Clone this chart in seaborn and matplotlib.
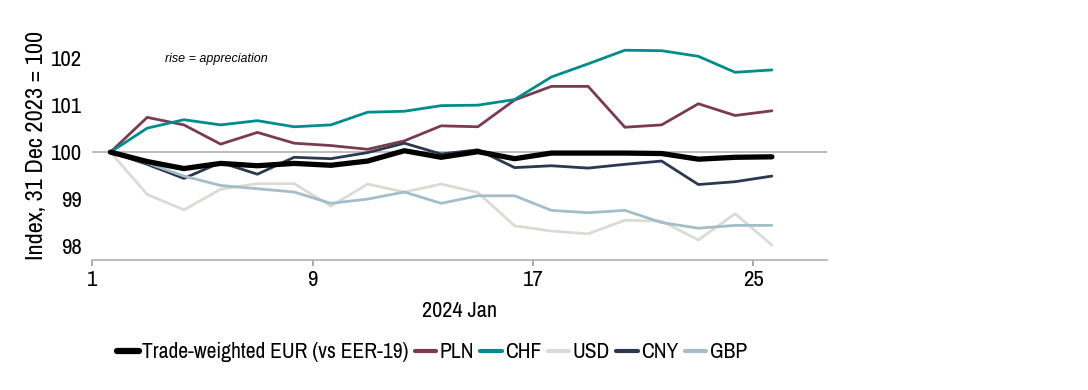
import pandas as pd
import numpy as np
import seaborn as sns
import matplotlib.pyplot as plt
from matplotlib import font_manager
from matplotlib.lines import Line2D

sns.set_theme(style='white')

# look for a narrow sans (the original uses Arial Narrow)
narrow = None
stretch = 'normal'
for f in font_manager.fontManager.ttflist:
    if 'Narrow' in f.name or 'Condensed' in f.name:
        narrow = f.name
        break
if narrow is None:
    for f in font_manager.fontManager.ttflist:
        if f.stretch in ('condensed', 'semi-condensed', 550, 600) and 'Mono' not in f.name \
                and 'Serif' not in f.name:
            narrow = f.name
            stretch = f.stretch
            break
fams = ([narrow] if narrow else []) + ['Liberation Sans', 'DejaVu Sans']
plt.rcParams['font.family'] = fams
plt.rcParams['font.stretch'] = stretch
plt.rcParams['text.color'] = 'black'
plt.rcParams['axes.labelcolor'] = 'black'
plt.rcParams['xtick.color'] = 'black'
plt.rcParams['ytick.color'] = 'black'

# business days of January 2024
days = [1, 2, 3, 4, 5, 8, 9, 10, 11, 12, 15, 16, 17, 18, 19, 22, 23, 24, 25]

eur = [100, 99.80, 99.65, 99.76, 99.71, 99.76, 99.72, 99.81, 100.03, 99.89,
       100.01, 99.86, 99.98, 99.98, 99.98, 99.97, 99.85, 99.89, 99.90]
pln = [100, 100.74, 100.58, 100.17, 100.42, 100.19, 100.14, 100.06, 100.24, 100.56,
       100.54, 101.11, 101.40, 101.40, 100.53, 100.58, 101.03, 100.78, 100.88]
chf = [100, 100.51, 100.69, 100.58, 100.67, 100.54, 100.58, 100.85, 100.87, 100.99,
       101.00, 101.12, 101.60, 101.88, 102.17, 102.16, 102.04, 101.70, 101.75]
usd = [100, 99.10, 98.77, 99.21, 99.33, 99.33, 98.85, 99.32, 99.15, 99.32,
       99.14, 98.43, 98.32, 98.26, 98.55, 98.53, 98.13, 98.69, 98.02]
cny = [100, 99.74, 99.44, 99.78, 99.53, 99.89, 99.86, 99.99, 100.19, 99.96,
       100.05, 99.67, 99.71, 99.66, 99.74, 99.81, 99.31, 99.37, 99.49]
gbp = [100, 99.77, 99.49, 99.29, 99.22, 99.15, 98.91, 99.00, 99.15, 98.91,
       99.07, 99.07, 98.76, 98.71, 98.76, 98.50, 98.38, 98.44, 98.44]

series_names = ['Trade-weighted EUR (vs EER-19)', 'PLN', 'CHF', 'USD', 'CNY', 'GBP']
colors = ['#000000', '#7a3b4f', '#008c8c', '#dcdbd3', '#2b3850', '#a3bdc9']
tick_labels = ['1', '9', '17', '25']

frames = []
for name, vals in zip(series_names, [eur, pln, chf, usd, cny, gbp]):
    frames.append(pd.DataFrame({'pos': np.arange(len(days)), 'day': days,
                                'value': vals, 'series': name}))
df = pd.concat(frames)

fig = plt.figure(figsize=(10.88, 3.90), dpi=100)
ax = fig.add_axes([0.0846, 0.333, 0.6755, 0.59])

ax.axhline(100, color='#b0b0b0', lw=1.2, zorder=1)

# thin ones first, trade-weighted on top
order = ['PLN', 'CHF', 'USD', 'CNY', 'GBP', 'Trade-weighted EUR (vs EER-19)']
pal = dict(zip(series_names, colors))
for name in order:
    sub = df[df['series'] == name]
    sns.lineplot(data=sub, x='pos', y='value', color=pal[name],
                 lw=3.8 if name.startswith('Trade') else 2.0, ax=ax, legend=False,
                 zorder=3 if name.startswith('Trade') else 2)

ax.set_xlim(-0.5, 19.5)
ax.set_ylim(97.7, 102.6)
ax.set_xticks([-0.5, 5.5, 11.5, 17.5])
ax.set_xticklabels(tick_labels)
ax.set_yticks([98, 99, 100, 101, 102])
ax.tick_params(axis='x', labelsize=16.5, length=4, color='#a0a0a0', direction='out', pad=3,
               bottom=True, labelcolor='black')
ax.tick_params(axis='y', labelsize=16.5, length=0, pad=7, labelcolor='black')
for s in ['top', 'right', 'left']:
    ax.spines[s].set_visible(False)
ax.spines['bottom'].set_color('#b0b0b0')
ax.spines['bottom'].set_linewidth(1.2)

ax.set_xlabel('2024 Jan', fontsize=16, labelpad=8, color='black')
ax.set_ylabel('Index, 31 Dec 2023 = 100', fontsize=17.5, labelpad=3, color='black')

ax.text(0.099, 0.873, 'rise = appreciation', transform=ax.transAxes,
        fontsize=9, style='italic', va='center', ha='left', fontstretch='normal',
        family=['Liberation Sans', 'DejaVu Sans'])

handles = [Line2D([0], [0], color=c, lw=4.5 if i == 0 else 3) for i, c in enumerate(colors)]
fig.legend(handles, series_names, loc='center', bbox_to_anchor=(0.397, 0.097),
           ncol=6, frameon=False, fontsize=15.5, handlelength=1.0,
           handletextpad=0.15, columnspacing=0.3)

plt.savefig('out.png', dpi=100)
